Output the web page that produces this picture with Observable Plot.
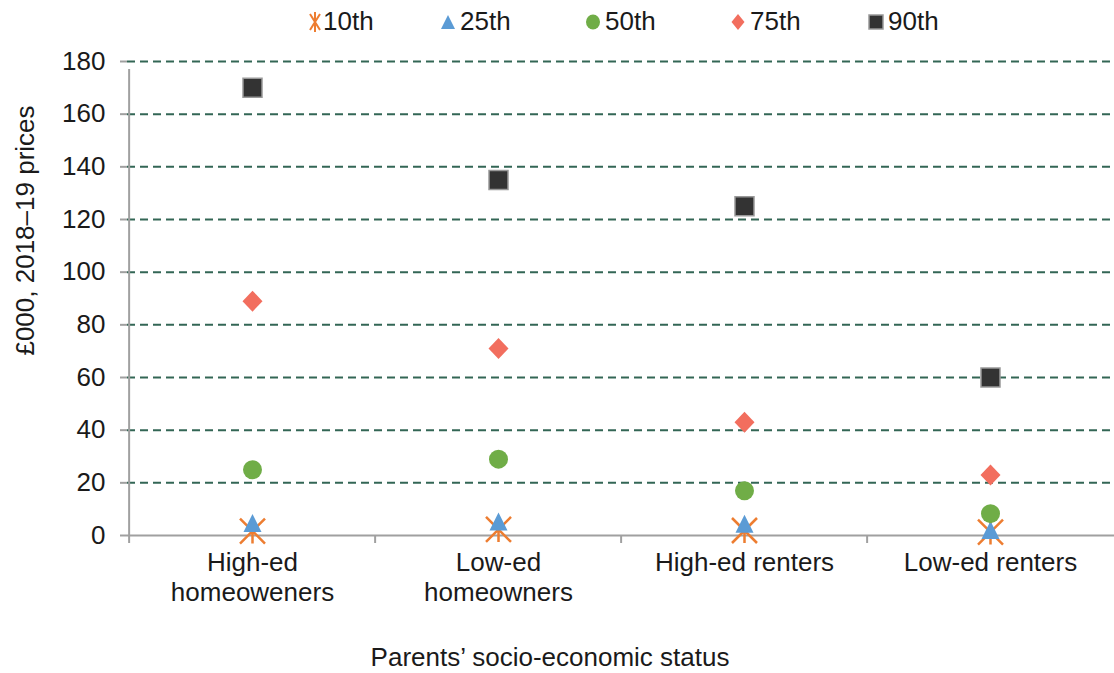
<!DOCTYPE html>
<html><head><meta charset="utf-8">
<script src="https://cdn.jsdelivr.net/npm/d3@7"></script>
<script src="https://cdn.jsdelivr.net/npm/@observablehq/plot@0.6"></script>
<style>
body{margin:0;background:#fff;font-family:"Liberation Sans",Arial,sans-serif;}
#legend,#chart{display:block;line-height:0}
</style></head><body>
<div id="legend"></div>
<div id="chart"></div>
<script>
// ---- data ----
const categories = ["High-ed homeoweners", "Low-ed homeowners", "High-ed renters", "Low-ed renters"];
const categoryLabels = ["High-ed\nhomeoweners", "Low-ed\nhomeowners", "High-ed renters", "Low-ed renters"];
const seriesNames = ["10th", "25th", "50th", "75th", "90th"];
const p10 = [1.7, 2.3, 1.9, 1.3];
const p25 = [4.7, 5.3, 4.5, 2.1];
const p50 = [25, 29, 17, 8.3];
const p75 = [89, 71, 43, 23];
const p90 = [170, 135, 125, 60];
const yTicks = [0, 20, 40, 60, 80, 100, 120, 140, 160, 180];
const xTitle = "Parents’ socio-economic status";
const yTitle = "£000, 2018–19 prices";

// ---- styles ----
const FONT = '"Liberation Sans", Arial, sans-serif';
const TEXT = "#1a1a1a";
const AXIS = "#a0a0a0";
const GRID = "#336655";
const colors = {"10th": "#ED7D31", "25th": "#5B9BD5", "50th": "#70AD47", "75th": "#F26E5E", "90th": "#333333"};

// custom symbols (unit shapes scaled by r)
const polySym = (pts) => ({draw(ctx, size) {
  const r = Math.sqrt(size / Math.PI);
  ctx.moveTo(pts[0][0] * r, pts[0][1] * r);
  for (let k = 1; k < pts.length; k++) ctx.lineTo(pts[k][0] * r, pts[k][1] * r);
  ctx.closePath();
}});
const starSym = {draw(ctx, size) {
  const r = Math.sqrt(size / Math.PI);
  ctx.moveTo(0, -r); ctx.lineTo(0, r);
  ctx.moveTo(-r, -r); ctx.lineTo(r, r);
  ctx.moveTo(-r, r); ctx.lineTo(r, -r);
}};
const triSym = polySym([[0, -1], [1, 1], [-1, 1]]);
const diaSym = polySym([[0, -1.05], [1, 0], [0, 1.05], [-1, 0]]);
const sqSym = polySym([[-1, -1], [1, -1], [1, 1], [-1, 1]]);

// ---- legend ----
const legendItems = [
  {name: seriesNames[0], cx: 315, tx: 323},
  {name: seriesNames[1], cx: 448, tx: 460},
  {name: seriesNames[2], cx: 593, tx: 605},
  {name: seriesNames[3], cx: 738, tx: 750},
  {name: seriesNames[4], cx: 876, tx: 888}
];
const leg = d3.select("#legend").append("svg").attr("width", 1114).attr("height", 42);
legendItems.forEach((it, i) => {
  const g = leg.append("g").attr("transform", `translate(${it.cx},22)`);
  const c = colors[it.name];
  if (i === 0) {
    g.append("path").attr("d", "M0,-10L0,10M-5,-8L5,8M-5,8L5,-8").attr("stroke", c).attr("stroke-width", 2).attr("fill", "none");
  } else if (i === 1) {
    g.append("path").attr("d", "M0,-7L7,7L-7,7Z").attr("fill", c);
  } else if (i === 2) {
    g.append("ellipse").attr("rx", 7).attr("ry", 7.5).attr("fill", c);
  } else if (i === 3) {
    g.append("path").attr("d", "M0,-8L6.5,0L0,8L-6.5,0Z").attr("fill", c);
  } else {
    g.append("rect").attr("x", -7).attr("y", -7).attr("width", 14).attr("height", 14).attr("fill", c).attr("stroke", "#999").attr("stroke-width", 1.5);
  }
  leg.append("text").attr("x", it.tx).attr("y", 29.5)
    .attr("font-family", FONT).attr("font-size", 26).attr("fill", TEXT).text(it.name);
});

// ---- chart ----
const W = 1114, H = 631, mL = 127, mR = 0, mT = 19, mB = 138;
const halfBand = (W - mL - mR) / categories.length / 2;
const labelMap = new Map(categories.map((c, i) => [c, categoryLabels[i]]));
const rows = (arr) => categories.map((c, i) => ({category: c, value: arr[i]}));
const yMax = yTicks[yTicks.length - 1];

const chart = Plot.plot({
  width: W, height: H,
  marginLeft: mL, marginRight: mR, marginTop: mT, marginBottom: mB,
  style: {fontFamily: FONT, fontSize: "26px", color: TEXT, background: "#fff", overflow: "visible"},
  x: {type: "band", domain: categories, padding: 0},
  y: {domain: [0, yMax]},
  marks: [
    Plot.ruleY(yTicks.filter((d) => d > 0), {stroke: GRID, strokeWidth: 2, strokeDasharray: "8,5"}),
    Plot.ruleY([0], {stroke: AXIS, strokeWidth: 2}),
    Plot.ruleX(categories, {x: (d) => d, dx: -halfBand, y1: 0, y2: 0, insetBottom: -8, stroke: AXIS, strokeWidth: 2}),
    Plot.ruleX(categories.slice(0, 1), {x: (d) => d, dx: -halfBand, y1: 0, y2: yMax, insetBottom: -8, stroke: AXIS, strokeWidth: 2}),
    Plot.axisY({ticks: yTicks, tickSize: 7, tickPadding: 15, stroke: AXIS, strokeWidth: 2, fill: TEXT, label: null, fontSize: 26}),
    Plot.axisX({tickSize: 0, tickPadding: 14, tickFormat: (d) => labelMap.get(d), lineHeight: 1.15, fill: TEXT, label: null, fontSize: 26}),
    Plot.dot(rows(p10), {x: "category", y: "value", symbol: starSym, r: 12.5, fill: "none", stroke: colors["10th"], strokeWidth: 2.5}),
    Plot.dot(rows(p25), {x: "category", y: "value", symbol: triSym, r: 9, fill: colors["25th"], stroke: "none"}),
    Plot.dot(rows(p50), {x: "category", y: "value", symbol: "circle", r: 9.5, fill: colors["50th"], stroke: "none"}),
    Plot.dot(rows(p75), {x: "category", y: "value", symbol: diaSym, r: 10, fill: colors["75th"], stroke: "none"}),
    Plot.dot(rows(p90), {x: "category", y: "value", symbol: sqSym, r: 9.5, fill: colors["90th"], stroke: "#999", strokeWidth: 1.5}),
    Plot.text([xTitle], {text: (d) => d, frameAnchor: "bottom", lineAnchor: "middle", textAnchor: "middle", dx: -71, dy: 122, fontSize: 26, fill: TEXT}),
    Plot.text([yTitle], {text: (d) => d, frameAnchor: "top-left", rotate: -90, textAnchor: "middle", lineAnchor: "middle", dx: -102, dy: 169, fontSize: 26, fill: TEXT})
  ]
});
document.getElementById("chart").appendChild(chart);
</script>
</body></html>
